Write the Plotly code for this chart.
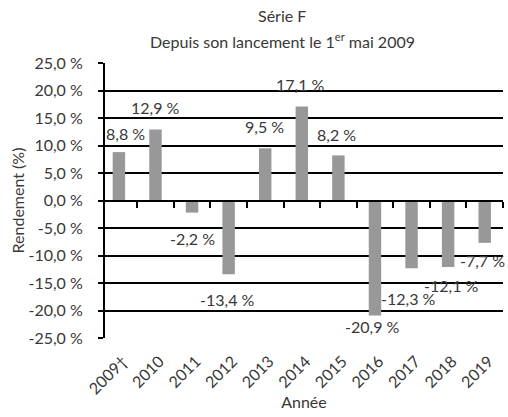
import plotly.graph_objects as go

years = ["2009†", "2010", "2011", "2012", "2013", "2014", "2015", "2016", "2017", "2018", "2019"]
returns = [8.8, 12.9, -2.2, -13.4, 9.5, 17.1, 8.2, -20.9, -12.3, -12.1, -7.7]
label_texts = ["8,8 %", "12,9 %", "-2,2 %", "-13,4 %", "9,5 %", "17,1 %", "8,2 %",
               "-20,9 %", "-12,3 %", "-12,1 %", "-7,7 %"]
# pixel offsets of the (manually moved) data labels relative to bar ends
label_dy = [19, 22, -26, -25, 22, 22, 21, -11, -30, -18, -18]
label_dx = [7, 0, 0, -1, -1, -1, -2, -2, -3, 3, -2]

y_ticks = [-25, -20, -15, -10, -5, 0, 5, 10, 15, 20, 25]
y_tick_labels = ["-25,0 %", "-20,0 %", "-15,0 %", "-10,0 %", "-5,0 %", "0,0 %",
                 "5,0 %", "10,0 %", "15,0 %", "20,0 %", "25,0 %"]

FONT = "Lato"
FS = 16
TXT = "#383838"
BAR = "#989898"

fig = go.Figure()
fig.add_trace(go.Bar(x=years, y=returns, marker=dict(color=BAR, line=dict(width=0)),
                     width=0.34, hoverinfo="skip", showlegend=False))
# invisible companion trace so the zero-crossing axis gets category ticks
fig.add_trace(go.Scatter(x=years, y=returns, xaxis="x2", mode="markers",
                         marker=dict(opacity=0), hoverinfo="skip", showlegend=False))

for i, (v, t, dy, dx) in enumerate(zip(returns, label_texts, label_dy, label_dx)):
    fig.add_annotation(x=i, y=v, text=t, showarrow=False, yshift=dy, xshift=dx,
                       xanchor="center", yanchor="middle",
                       font=dict(family=FONT, size=FS, color=TXT), xref="x", yref="y")

fig.add_annotation(xref="paper", yref="paper", x=0.445, y=1, yshift=48, showarrow=False,
                   xanchor="center", yanchor="middle",
                   text="Série F", font=dict(family=FONT, size=FS, color=TXT))
fig.add_annotation(xref="paper", yref="paper", x=0.445, y=1, yshift=23, showarrow=False,
                   xanchor="center", yanchor="middle",
                   text="Depuis son lancement le 1<sup>er</sup> mai 2009",
                   font=dict(family=FONT, size=FS, color=TXT))

xr = [-0.38, 10.5]
fig.update_layout(
    width=508, height=417,
    margin=dict(l=105, r=5, t=63, b=79),
    paper_bgcolor="white", plot_bgcolor="white",
    font=dict(family=FONT, size=FS, color=TXT),
    xaxis=dict(type="category", range=xr, showline=False, showgrid=False, zeroline=False,
               ticks="", tickangle=-45, tickfont=dict(size=FS, color=TXT), automargin=False,
               ticklabelstandoff=10, ticklabelshift=4,
               title=dict(text="Année", font=dict(size=FS, color=TXT), standoff=0)),
    xaxis2=dict(type="category", range=xr, overlaying="x", anchor="free", position=0.5,
                side="bottom", showline=True, linecolor="black", linewidth=2,
                ticks="outside", ticklen=6, tickwidth=2, tickcolor="black",
                tickson="boundaries", showticklabels=False, showgrid=False, zeroline=False),
    yaxis=dict(range=[-25, 25], tickvals=y_ticks, ticktext=y_tick_labels,
               showgrid=True, gridcolor="black", gridwidth=2, zeroline=False,
               showline=True, linecolor="black", linewidth=2, automargin=False,
               ticks="outside", ticklen=5, tickwidth=2, tickcolor="black",
               ticklabelstandoff=12,
               tickfont=dict(size=FS, color=TXT),
               title=dict(text="Rendement (%)", font=dict(size=FS, color=TXT), standoff=0)),
)

fig.write_html("out.html", config={"displayModeBar": False},
               post_script="document.body.style.margin='0';document.body.style.overflow='hidden';")
